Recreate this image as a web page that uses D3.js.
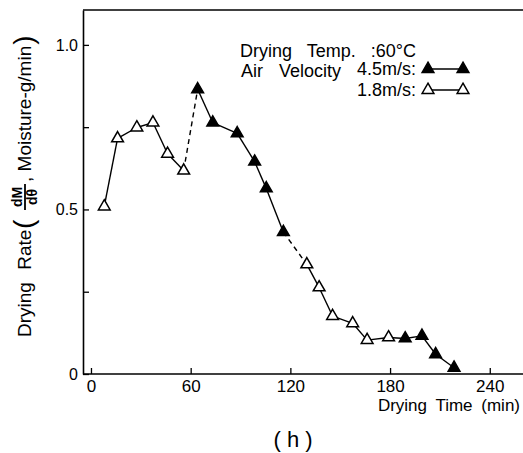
<!DOCTYPE html>
<html>
<head>
<meta charset="utf-8">
<script src="https://cdn.jsdelivr.net/npm/d3@7"></script>
<style>
  body { margin: 0; background: #fff; }
  text { font-family: "Liberation Sans", "DejaVu Sans", sans-serif; fill: #000; }
</style>
</head>
<body>
<div id="graph"></div>
<script>
// data
var times = [8, 16, 27.6, 37.3, 46.1, 55.8, 64.2, 73.3, 88, 98.5, 105.5, 115.8,
             129.9, 137.3, 145.4, 157.5, 166.2, 179.1, 189.1, 199.2, 207.4, 218.5];
var rates = [0.509, 0.716, 0.749, 0.764, 0.669, 0.618, 0.865, 0.764, 0.731, 0.645, 0.564, 0.431,
             0.333, 0.263, 0.176, 0.154, 0.103, 0.111, 0.108, 0.116, 0.060, 0.019];
var velocity = ["1.8", "1.8", "1.8", "1.8", "1.8", "1.8",
                "4.5", "4.5", "4.5", "4.5", "4.5", "4.5",
                "1.8", "1.8", "1.8", "1.8", "1.8", "1.8",
                "4.5", "4.5", "4.5", "4.5"];
var dashedSegments = [5, 11]; // segment starting at this index is dashed
var xTicks = [0, 60, 120, 180, 240];
var yTicks = [0, 0.25, 0.5, 0.75, 1.0];
var yLabels = {"0": "0", "0.5": "0.5", "1": "1.0"};

var W = 523, H = 453;
var plotLeft = 83, plotBottom = 374, plotTop = 10;

var svg = d3.select("#graph")
            .append("svg")
            .attr("width", W).attr("height", H);

var x = d3.scaleLinear().domain([-4.8, 260]).range([plotLeft, W]);
var y = d3.scaleLinear().domain([0, 1.106]).range([plotBottom, plotTop]);

var points = times.map(function(t, i) { return {t: t, r: rates[i], v: velocity[i]}; });

// frame: top line and axes
svg.append("line")
   .attr("x1", plotLeft).attr("x2", W).attr("y1", plotTop).attr("y2", plotTop)
   .attr("stroke", "#000").attr("stroke-width", 1.5);

var xAxis = d3.axisBottom(x).tickValues(xTicks).tickSizeInner(-6).tickSizeOuter(0).tickPadding(6);
var yAxis = d3.axisLeft(y).tickValues(yTicks).tickSizeInner(-6).tickSizeOuter(0).tickPadding(5)
              .tickFormat(function(d) { return yLabels[String(d)] || ""; });

var gx = svg.append("g").attr("transform", "translate(0," + plotBottom + ")").call(xAxis);
var gy = svg.append("g").attr("transform", "translate(" + plotLeft + ",0)").call(yAxis);
[gx, gy].forEach(function(g) {
  g.select(".domain").attr("stroke-width", 1.6);
  g.selectAll(".tick line").attr("stroke-width", 1.3);
  g.selectAll("text").style("font-size", "17px")
   .style("font-family", "'Liberation Sans', 'DejaVu Sans', sans-serif");
});
gx.select(".domain").attr("d", "M" + plotLeft + ",0H" + W);
gy.selectAll("text").style("font-size", "16px");

// connecting lines
var line = d3.line().x(function(d) { return x(d.t); }).y(function(d) { return y(d.r); });
for (var i = 0; i < points.length - 1; i++) {
  svg.append("path")
     .attr("d", line([points[i], points[i + 1]]))
     .attr("fill", "none").attr("stroke", "#000").attr("stroke-width", 1.4)
     .attr("stroke-dasharray", dashedSegments.indexOf(i) >= 0 ? "5,4" : null);
}

// markers
var tri = d3.symbol().type(d3.symbolTriangle).size(60);
svg.selectAll("path.pt")
   .data(points)
   .enter()
   .append("path")
   .attr("class", "pt")
   .attr("d", tri)
   .attr("transform", function(d) { return "translate(" + x(d.t) + "," + y(d.r) + ")"; })
   .attr("fill", function(d) { return d.v === "4.5" ? "#000" : "#fff"; })
   .attr("stroke", "#000").attr("stroke-width", 1.5);

// legend
var fs = "18px";
svg.append("text").attr("x", 240).attr("y", 57).style("font-size", fs)
   .attr("word-spacing", "10px").text("Drying Temp. :60°C");
svg.append("text").attr("x", 241).attr("y", 77).style("font-size", fs)
   .attr("word-spacing", "11px").text("Air Velocity");
svg.append("text").attr("x", 416).attr("y", 75).attr("text-anchor", "end").style("font-size", fs).text("4.5m/s:");
svg.append("text").attr("x", 416).attr("y", 96).attr("text-anchor", "end").style("font-size", fs).text("1.8m/s:");
[["4.5", 69], ["1.8", 90]].forEach(function(e) {
  svg.append("line").attr("x1", 428).attr("x2", 463).attr("y1", e[1]).attr("y2", e[1])
     .attr("stroke", "#000").attr("stroke-width", 1.4);
  [428, 463].forEach(function(px) {
    svg.append("path").attr("d", tri)
       .attr("transform", "translate(" + px + "," + e[1] + ")")
       .attr("fill", e[0] === "4.5" ? "#000" : "#fff")
       .attr("stroke", "#000").attr("stroke-width", 1.5);
  });
});

// x label and panel tag
svg.append("text").attr("x", 520).attr("y", 411).attr("text-anchor", "end")
   .style("font-size", "17px").attr("word-spacing", "4px").text("Drying Time (min)");
svg.append("text").attr("x", 293).attr("y", 447).attr("text-anchor", "middle")
   .style("font-size", "22px").text("( h )");

// y label, rotated, with the dM/dθ fraction
var yl = svg.append("g").attr("transform", "translate(31,337) rotate(-90)");
yl.append("text").attr("x", 0).attr("y", 0).style("font-size", "19px")
  .attr("word-spacing", "7px").text("Drying Rate");
yl.append("text").attr("x", 108).attr("y", 2).style("font-size", "28px").text("(");
yl.append("text").attr("x", 140).attr("y", -9).attr("text-anchor", "middle")
  .style("font-size", "14px").style("font-weight", "bold").text("dM");
yl.append("line").attr("x1", 127).attr("x2", 153).attr("y1", -6).attr("y2", -6)
  .attr("stroke", "#000").attr("stroke-width", 1.8);
yl.append("text").attr("x", 140).attr("y", 6).attr("text-anchor", "middle")
  .style("font-size", "14px").style("font-weight", "bold").text("dθ");
var rest = yl.append("text").attr("x", 155).attr("y", 0).style("font-size", "19px")
  .text(", Moisture-g/min");
var restEnd = 155 + rest.node().getComputedTextLength();
yl.append("text").attr("x", restEnd + 1).attr("y", 2).style("font-size", "28px").text(")");
</script>
</body>
</html>
